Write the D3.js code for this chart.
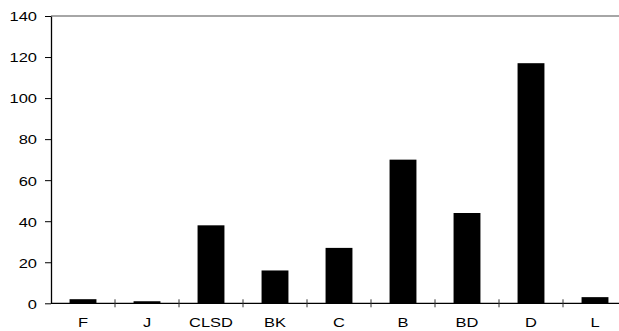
<!DOCTYPE html>
<html><head><meta charset="utf-8">
<script src="https://cdn.jsdelivr.net/npm/d3@7"></script>
<style>body{margin:0;background:#fff}svg{display:block}text{font-family:"Liberation Sans",Arial,sans-serif}</style>
</head><body><svg id="c" width="619" height="331"></svg>
<script>
const categories = ["F","J","CLSD","BK","C","B","BD","D","L"];
const values = [2,1,38,16,27,70,44,117,3];
const yTicks = [0,20,40,60,80,100,120,140];

const svg = d3.select("#c");
const mLeft = 51, mRight = 627, mTop = 16, mBottom = 303.3;
const sx = 1.22, fs = 13.5;
const x = d3.scaleBand().domain(categories).range([mLeft, mRight]).paddingInner(0.58).paddingOuter(0.29);
const y = d3.scaleLinear().domain([0,140]).range([mBottom, mTop]);

// top border
svg.append("line").attr("x1",mLeft).attr("x2",619).attr("y1",mTop).attr("y2",mTop)
  .attr("stroke","#888").attr("stroke-width",1.5);

// bars
svg.selectAll("rect.bar").data(categories).join("rect")
  .attr("x", d => x(d)).attr("width", x.bandwidth())
  .attr("y", (d,i) => y(values[i])).attr("height", (d,i) => mBottom - y(values[i]))
  .attr("fill","#000");

// y axis
const ya = svg.append("g").attr("transform",`translate(${mLeft},0)`)
  .call(d3.axisLeft(y).tickValues(yTicks).tickSize(6).tickSizeOuter(0));
ya.select(".domain").attr("stroke","#000").attr("stroke-width",1.3);
ya.selectAll(".tick line").attr("stroke","#000");
ya.selectAll("text").attr("x",0).attr("dy","0.36em")
  .attr("transform",`translate(-14,0) scale(${sx},1)`)
  .attr("font-size",fs).attr("fill","#000").attr("font-family","Liberation Sans, Arial, sans-serif");

// x axis baseline
svg.append("line").attr("x1",mLeft).attr("x2",619).attr("y1",mBottom).attr("y2",mBottom)
  .attr("stroke","#000").attr("stroke-width",1.3);
// category tick marks at band boundaries
const step = x.step();
const bounds = d3.range(1, categories.length).map(i => mLeft + i*step);
svg.selectAll("line.xt").data(bounds).join("line")
  .attr("x1",d=>d).attr("x2",d=>d).attr("y1",mBottom-4).attr("y2",mBottom+4)
  .attr("stroke","#333").attr("stroke-width",1);
// category labels
svg.selectAll("text.xl").data(categories).join("text")
  .attr("transform", d => `translate(${x(d) + x.bandwidth()/2},327) scale(${sx},1)`)
  .attr("text-anchor","middle").attr("font-size",fs).attr("fill","#000")
  .text(d => d);
</script></body></html>
